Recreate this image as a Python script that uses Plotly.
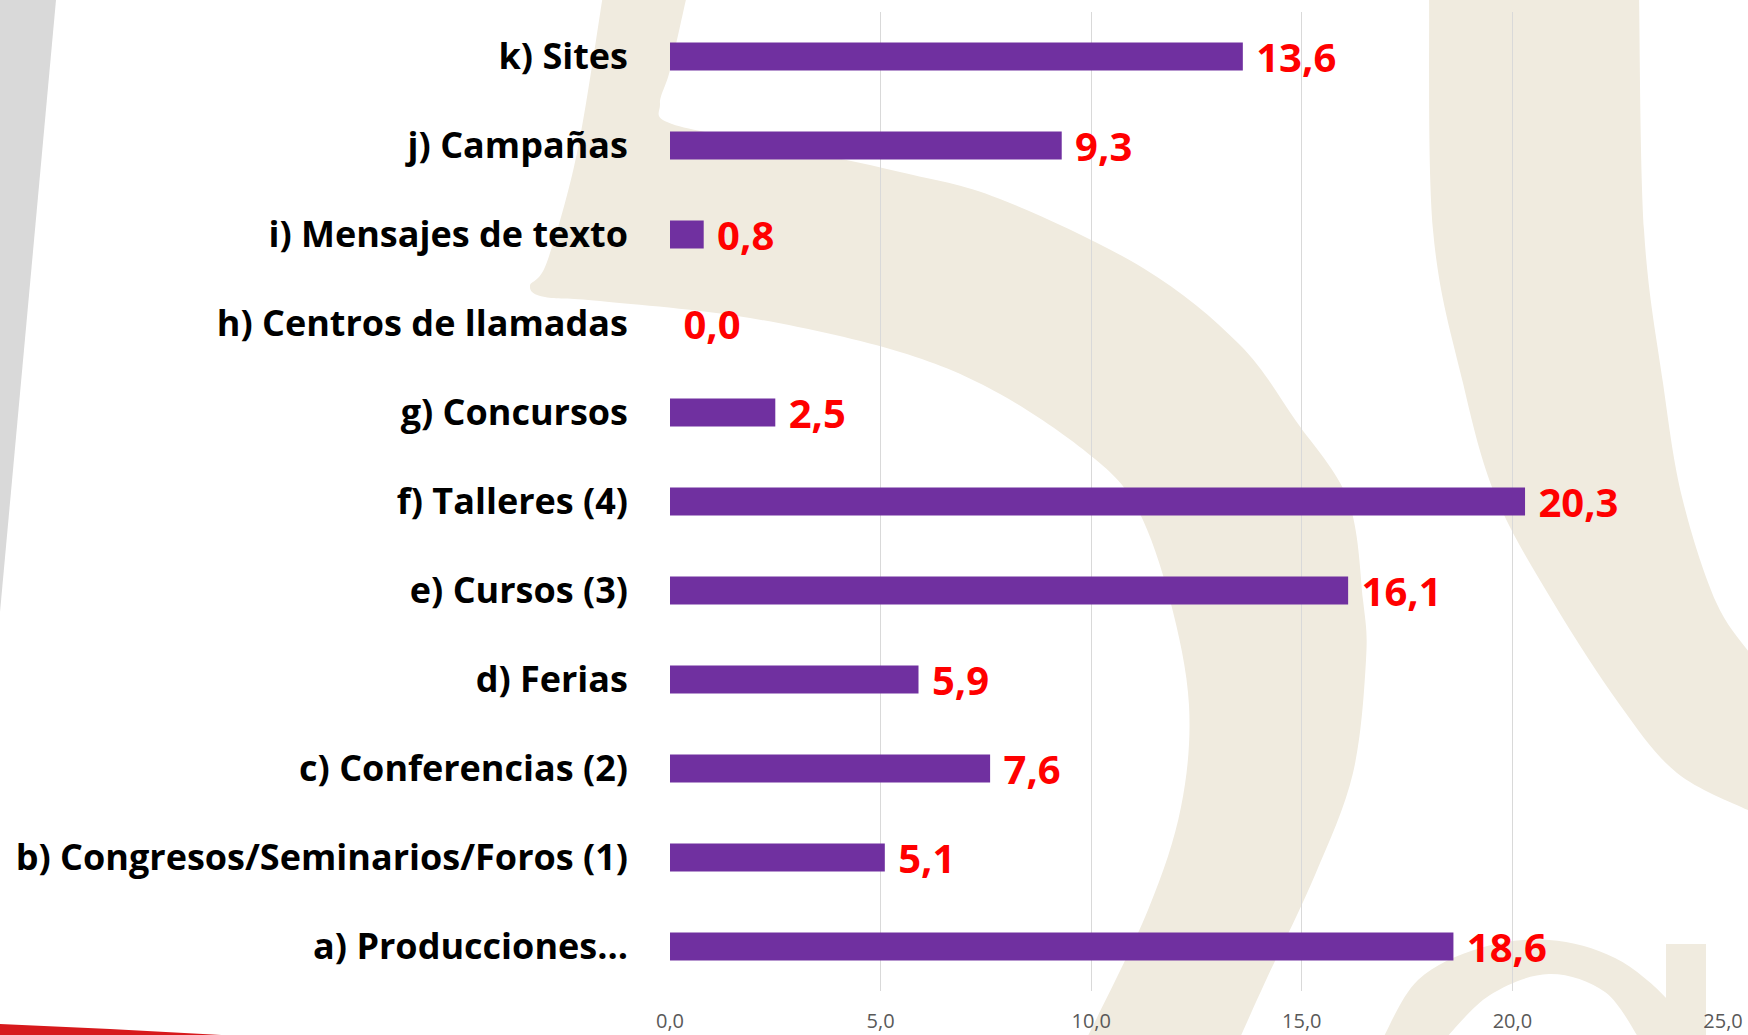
import plotly.graph_objects as go

# ---------------- data ----------------
categories = [
    "a) Producciones…",
    "b) Congresos/Seminarios/Foros (1)",
    "c) Conferencias (2)",
    "d) Ferias",
    "e) Cursos (3)",
    "f) Talleres (4)",
    "g) Concursos",
    "h) Centros de llamadas",
    "i) Mensajes de texto",
    "j) Campañas",
    "k) Sites",
]
values = [18.6, 5.1, 7.6, 5.9, 16.1, 20.3, 2.5, 0.0, 0.8, 9.3, 13.6]
x_ticks = [0, 5, 10, 15, 20, 25]

# ---------------- geometry (pixels) ----------------
FIG_W, FIG_H = 1748, 1035
M_L, M_R, M_T, M_B = 670, 25, 12, 44
PW = FIG_W - M_L - M_R
PH = FIG_H - M_T - M_B


def to_paper(p):
    x, y = p
    return ((x - M_L) / PW, (FIG_H - M_B - y) / PH)


def fmt(p):
    x, y = to_paper(p)
    return f"{x:.5f},{y:.5f}"


def curve(pts, start=True):
    """Catmull-Rom spline through pixel points -> SVG path (paper coords)."""
    s = ("M " if start else "L ") + fmt(pts[0])
    n = len(pts)
    for i in range(n - 1):
        p0 = pts[i - 1] if i > 0 else pts[i]
        p1 = pts[i]
        p2 = pts[i + 1]
        p3 = pts[i + 2] if i + 2 < n else pts[i + 1]
        c1 = (p1[0] + (p2[0] - p0[0]) / 6, p1[1] + (p2[1] - p0[1]) / 6)
        c2 = (p2[0] - (p3[0] - p1[0]) / 6, p2[1] - (p3[1] - p1[1]) / 6)
        s += f" C {fmt(c1)} {fmt(c2)} {fmt(p2)}"
    return s


def band(edge_a, edge_b):
    return curve(edge_a) + " " + curve(edge_b[::-1], start=False) + " Z"


def poly(pts):
    return "M " + " L ".join(fmt(p) for p in pts) + " Z"


BEIGE = "#F0EBDF"

arch_outer = [(687, -5), (670, 70), (660, 104), (672, 124), (780, 146), (900, 172),
              (1000, 199), (1143, 268), (1239, 344), (1296, 421), (1348, 500),
              (1363, 600), (1366, 660), (1353, 773), (1315, 875), (1267, 978), (1239, 1040)]
arch_inner = [(603, -5), (577, 153), (547, 262), (530, 286), (545, 297), (600, 301),
              (750, 318), (900, 352), (1000, 394), (1095, 459), (1138, 510),
              (1170, 600), (1189, 705), (1181, 807), (1148, 910), (1086, 1040)]

rb_left = [(1429, -5), (1433, 230), (1463, 383), (1496, 497), (1553, 602),
           (1620, 705), (1677, 773), (1752, 812)]
rb_right = [(1639, -5), (1644, 230), (1663, 383), (1682, 497), (1716, 602), (1752, 656)]

sa_outer = [(1382, 1040), (1418, 980), (1480, 948), (1549, 940), (1615, 958), (1668, 1000), (1690, 1040)]
sa_inner = [(1444, 1040), (1490, 995), (1549, 974), (1605, 992), (1640, 1040)]

shapes = [
    dict(type="path", path=poly([(0, 0), (56, 0), (0, 612)]), fillcolor="#D9D9D9",
         line=dict(width=0), xref="paper", yref="paper", layer="below"),
    dict(type="path", path=band(arch_outer, arch_inner), fillcolor=BEIGE,
         line=dict(width=0), xref="paper", yref="paper", layer="below"),
    dict(type="path", path=curve(rb_left) + " L " + fmt((1752, 656)) + " "
         + curve(rb_right[::-1], start=False) + " Z", fillcolor=BEIGE,
         line=dict(width=0), xref="paper", yref="paper", layer="below"),
    dict(type="path", path=band(sa_outer, sa_inner), fillcolor=BEIGE,
         line=dict(width=0), xref="paper", yref="paper", layer="below"),
    dict(type="path", path=poly([(1666, 944), (1706, 944), (1706, 1040), (1666, 1040)]),
         fillcolor=BEIGE, line=dict(width=0), xref="paper", yref="paper", layer="below"),
    dict(type="path", path=poly([(0, 1024), (110, 1029), (240, 1036), (0, 1036)]),
         fillcolor="#D7191C", line=dict(width=0), xref="paper", yref="paper", layer="below"),
]

fig = go.Figure(
    go.Bar(
        x=values,
        y=categories,
        orientation="h",
        marker=dict(color="#7030A0", line=dict(width=0)),
        texttemplate="\u00a0%{x:.1f}",
        textposition="outside",
        textfont=dict(family="Open Sans", size=40, color="#FF0000", weight="bold"),
        constraintext="none",
        cliponaxis=False,
        hoverinfo="skip",
    )
)

fig.update_layout(
    width=FIG_W,
    height=FIG_H,
    margin=dict(l=M_L, r=M_R, t=M_T, b=M_B, autoexpand=False),
    paper_bgcolor="white",
    plot_bgcolor="rgba(0,0,0,0)",
    separators=",.",
    bargap=0.685,
    showlegend=False,
    shapes=shapes,
    xaxis=dict(
        range=[0, 25],
        tickvals=x_ticks,
        tickformat=".1f",
        showgrid=True,
        gridcolor="#D9D9D9",
        gridwidth=1,
        zeroline=False,
        showline=False,
        ticks="",
        ticklabelstandoff=16,
        tickfont=dict(family="Open Sans", size=20, color="#595959"),
        automargin=False,
        fixedrange=True,
    ),
    yaxis=dict(
        categoryorder="array",
        categoryarray=categories,
        showgrid=False,
        zeroline=False,
        showline=False,
        ticks="",
        ticklabelstandoff=41,
        tickfont=dict(family="Open Sans", size=36, color="#000000", weight="bold"),
        automargin=False,
        fixedrange=True,
    ),
)

fig.write_html(
    "out.html",
    config={"displayModeBar": False},
    post_script="document.body.style.margin='0px';document.documentElement.style.overflow='hidden';",
)
